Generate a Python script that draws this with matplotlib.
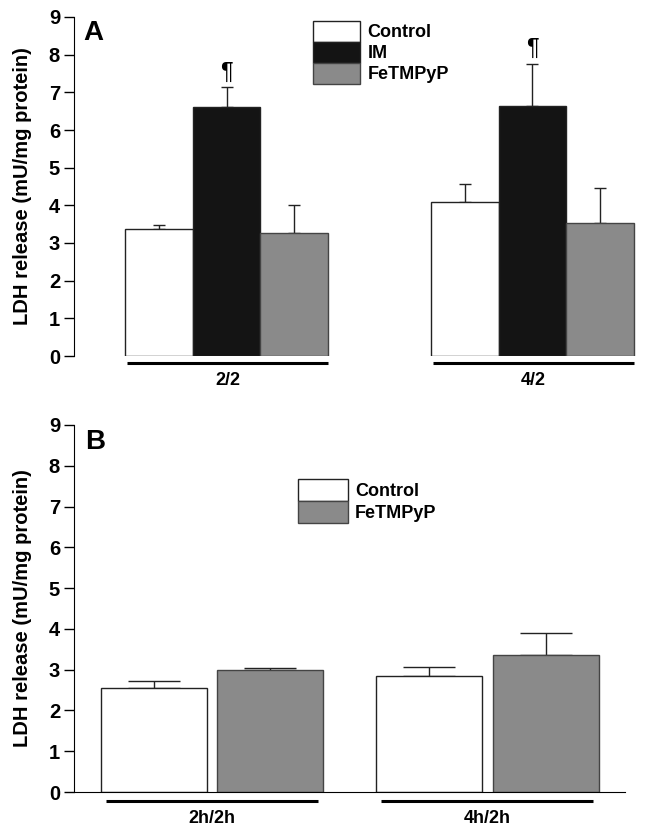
import numpy as np
import matplotlib
matplotlib.use("Agg")
import matplotlib.pyplot as plt
import matplotlib.transforms as mtransforms

plt.rcParams['font.family'] = ['Liberation Sans', 'DejaVu Sans']
plt.rcParams['font.weight'] = 'bold'

# --- data: panel A ---
groups_a = ["2/2", "4/2"]
series_a = ["Control", "IM", "FeTMPyP"]
vals_a = {"Control": [3.37, 4.08], "IM": [6.62, 6.63], "FeTMPyP": [3.27, 3.53]}
errs_a = {"Control": [0.10, 0.48], "IM": [0.51, 1.12], "FeTMPyP": [0.75, 0.92]}
sig_a = ["\u00b6", "\u00b6"]  # markers above IM bars

# --- data: panel B ---
groups_b = ["2h/2h", "4h/2h"]
series_b = ["Control", "FeTMPyP"]
vals_b = {"Control": [2.55, 2.84], "FeTMPyP": [2.99, 3.36]}
errs_b = {"Control": [0.16, 0.22], "FeTMPyP": [0.05, 0.54]}

COLORS = {"Control": "white", "IM": "#141414", "FeTMPyP": "#8a8a8a"}
EDGES = {"Control": "#222222", "IM": "#222222", "FeTMPyP": "#444444"}
YLABEL = "LDH release (mU/mg protein)"

W, H = 649, 833
fig = plt.figure(figsize=(W / 100, H / 100), dpi=100)


def px_axes(x0, x1, ytop, ybot):
    return fig.add_axes([x0 / W, (H - ybot) / H, (x1 - x0) / W, (ybot - ytop) / H])


def style_axis(ax):
    ax.set_ylim(0, 9)
    ax.set_yticks(range(10))
    ax.spines['top'].set_visible(False)
    ax.spines['right'].set_visible(False)
    ax.tick_params(axis='y', direction='out', length=7, width=1, labelsize=14.5, pad=3)
    ax.tick_params(axis='x', length=0, labelbottom=False)
    ax.set_ylabel(YLABEL, fontsize=14.5, fontweight='bold')
    for lab in ax.get_yticklabels():
        lab.set_fontweight('bold')


def underline(ax, x0, x1, label, dy_line, dy_text):
    tr = mtransforms.blended_transform_factory(ax.transData, ax.transAxes)
    ax.plot([x0, x1], [dy_line, dy_line], color='black', lw=2.2,
            transform=tr, clip_on=False, solid_capstyle='butt')
    ax.text((x0 + x1) / 2, dy_text, label, transform=tr, ha='center', va='top',
            fontsize=13, fontweight='bold')


# ---------------- panel A ----------------
axA = px_axes(74, 640, 17, 356)
style_axis(axA)
axA.spines['bottom'].set_visible(False)
bw_a = 1.0
centers_a = np.array([2.26, 6.79])
axA.set_xlim(0, 566 / 67.5)
for k, s in enumerate(series_a):
    xs = centers_a + (k - 1) * bw_a
    axA.bar(xs, vals_a[s], width=bw_a, color=COLORS[s], edgecolor=EDGES[s],
            linewidth=1, label=s, zorder=2)
    axA.errorbar(xs, vals_a[s], yerr=[np.zeros(2), errs_a[s]], fmt='none',
                 ecolor='#222222', elinewidth=1, capsize=4.5, capthick=1, zorder=1)
for i, c in enumerate(centers_a):
    top = vals_a["IM"][i] + errs_a["IM"][i]
    axA.text(c, top + 0.1, sig_a[i], ha='center', va='bottom', fontsize=17,
             fontweight='normal')
for i, g in enumerate(groups_a):
    underline(axA, centers_a[i] - 1.47, centers_a[i] + 1.5, g, -7 / 339, -16 / 339)
axA.text(0.016, 0.99, "A", transform=axA.transAxes, fontsize=20,
         fontweight='bold', va='top', ha='left')
legA = axA.legend(loc='upper left', bbox_to_anchor=(0.422, 0.988), frameon=False,
                  fontsize=13, labelspacing=0, handleheight=1.4, handlelength=2.6,
                  handletextpad=0.42, borderpad=0, borderaxespad=0)

# ---------------- panel B ----------------
axB = px_axes(74, 625, 425, 792)
style_axis(axB)
bw_b = 1.0
centers_b = np.array([1.30, 3.90])
axB.set_xlim(0, 551 / 106)
for k, s in enumerate(series_b):
    xs = centers_b + (k - 0.5) * 1.1
    axB.bar(xs, vals_b[s], width=bw_b, color=COLORS[s], edgecolor=EDGES[s],
            linewidth=1, label=s, zorder=2)
    axB.errorbar(xs, vals_b[s], yerr=[np.zeros(2), errs_b[s]], fmt='none',
                 ecolor='#222222', elinewidth=1, capsize=19, capthick=1, zorder=1)
for i, g in enumerate(groups_b):
    underline(axB, centers_b[i] - 1.0, centers_b[i] + 1.0, g, -9 / 367, -18 / 367)
axB.text(0.02, 0.99, "B", transform=axB.transAxes, fontsize=20,
         fontweight='bold', va='top', ha='left')
legB = axB.legend(loc='upper left', bbox_to_anchor=(0.4065, 0.853), frameon=False,
                  fontsize=13, labelspacing=0, handleheight=1.52, handlelength=2.77,
                  handletextpad=0.4, borderpad=0, borderaxespad=0)

axA.yaxis.set_label_coords(-0.074, 0.5)
axB.yaxis.set_label_coords(-0.076, 0.5)

fig.savefig("out.png", dpi=100)
